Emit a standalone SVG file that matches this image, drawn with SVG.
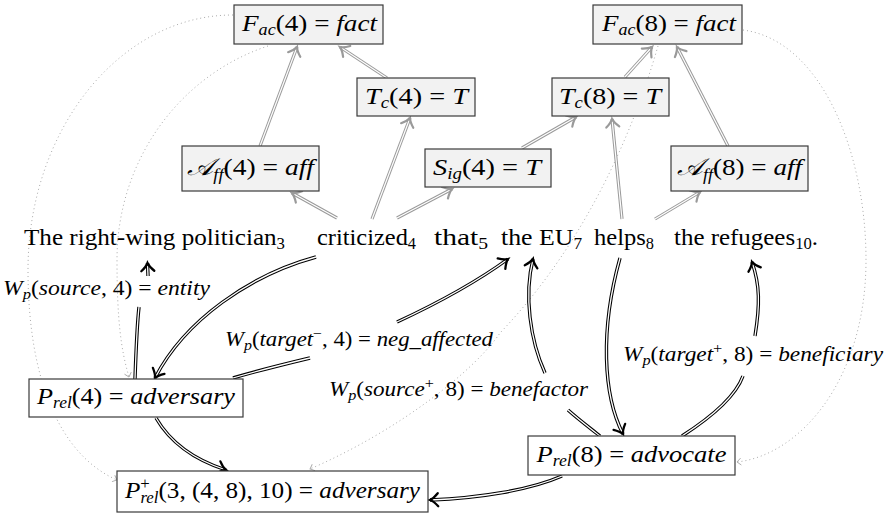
<svg xmlns="http://www.w3.org/2000/svg" width="895" height="513" viewBox="0 0 895 513">
<style>
text{font-family:'Liberation Serif','Times New Roman',serif}
.t{font-size:24px;fill:#000}
.i{font-style:italic}
.s{font-size:16px}
.lb{font-size:20px}
.ls{font-size:14px}
.b1{fill:#f2f2f2;stroke:#3a3a3a;stroke-width:1.2}
.b2{fill:#fff;stroke:#3a3a3a;stroke-width:1.2}
.go{fill:none;stroke:#9a9a9a;stroke-width:3.2}
.gi{fill:none;stroke:#fff;stroke-width:1.2;marker-end:url(#ag)}
.bo{fill:none;stroke:#000;stroke-width:3.4}
.bi{fill:none;stroke:#fff;stroke-width:1.3}
.ba{marker-end:url(#ab)}
.dot{fill:none;stroke:#aaa;stroke-width:1;stroke-dasharray:1 3;marker-end:url(#ad)}
</style>
<defs>
<marker id="ab" markerUnits="userSpaceOnUse" orient="auto" refX="0" refY="0" markerWidth="20" markerHeight="20" overflow="visible"><path d="M-8,-6.5 C-5,-3 -2,-0.8 0,0 C-2,0.8 -5,3 -8,6.5" fill="none" stroke="#000" stroke-width="2.3" stroke-linecap="round"/></marker>
<marker id="ag" markerUnits="userSpaceOnUse" orient="auto" refX="0" refY="0" markerWidth="20" markerHeight="20" overflow="visible"><path d="M-8,-6.5 C-5,-3 -2,-0.8 0,0 C-2,0.8 -5,3 -8,6.5" fill="none" stroke="#9a9a9a" stroke-width="2.2" stroke-linecap="round"/></marker>
<marker id="ad" markerUnits="userSpaceOnUse" orient="auto" refX="0" refY="0" markerWidth="10" markerHeight="10" overflow="visible"><path d="M-4,-3.5 L0,0 L-4,3.5" fill="none" stroke="#aaa" stroke-width="0.9"/></marker>
</defs>

<g id="connectors">
<path class="dot" d="M233,15 C120,15 28,130 28,270 C28,380 60,455 117,480"/>
<path class="dot" d="M268,46 C180,75 117,160 117,260 C117,320 121,350 129,377"/>
<path class="dot" d="M743,30 C820,40 866,150 866,260 C866,380 800,455 737,462"/>
<path class="dot" d="M658,46 C625,160 570,260 500,333 C475,370 400,430 310,469"/>
<path class="go" d="M260,146 L297,47"/><path class="gi" d="M260,146 L297,47"/>
<path class="go" d="M387,78 L340,47"/><path class="gi" d="M387,78 L340,47"/>
<path class="go" d="M372,219 L410,118"/><path class="gi" d="M372,219 L410,118"/>
<path class="go" d="M337,218 L292,193"/><path class="gi" d="M337,218 L292,193"/>
<path class="go" d="M397,218 L452,189"/><path class="gi" d="M397,218 L452,189"/>
<path class="go" d="M522,148 L576,117"/><path class="gi" d="M522,148 L576,117"/>
<path class="go" d="M625,77 L652,47"/><path class="gi" d="M625,77 L652,47"/>
<path class="go" d="M728,146 L677,47"/><path class="gi" d="M728,146 L677,47"/>
<path class="go" d="M622,219 L612,119"/><path class="gi" d="M622,219 L612,119"/>
<path class="go" d="M655,219 L700,192"/><path class="gi" d="M655,219 L700,192"/>
<path class="bo" d="M135,379 C136,350 137,325 139,307"/><path class="bi" d="M135,379 C136,350 137,325 139,307"/>
<path class="bo" d="M148,276 L147.5,263"/><path class="bi ba" d="M148,276 L147.5,263"/>
<path class="bo" d="M316,257 C250,275 185,320 155,378"/><path class="bi ba" d="M316,257 C250,275 185,320 155,378"/>
<path class="bo" d="M233,378 C260,370 285,364 310,358"/><path class="bi" d="M233,378 C260,370 285,364 310,358"/>
<path class="bo" d="M397,322 C440,302 475,283 508,259"/><path class="bi ba" d="M397,322 C440,302 475,283 508,259"/>
<path class="bo" d="M620,258 C600,330 603,395 623,434"/><path class="bi ba" d="M620,258 C600,330 603,395 623,434"/>
<path class="bo" d="M600,436 C590,428 578,419 568,410"/><path class="bi" d="M600,436 C590,428 578,419 568,410"/>
<path class="bo" d="M545,373 C530,340 524,295 533,259"/><path class="bi ba" d="M545,373 C530,340 524,295 533,259"/>
<path class="bo" d="M682,436 C710,418 735,398 743,376"/><path class="bi" d="M682,436 C710,418 735,398 743,376"/>
<path class="bo" d="M755,336 C760,305 760,285 752,262"/><path class="bi ba" d="M755,336 C760,305 760,285 752,262"/>
<path class="bo" d="M156,418 C170,442 195,460 226,470"/><path class="bi ba" d="M156,418 C170,442 195,460 226,470"/>
<path class="bo" d="M562,476 C530,490 480,498 430,500"/><path class="bi ba" d="M562,476 C530,490 480,498 430,500"/>
</g>

<g id="labels">
<text class="t lb" x="3" y="295" textLength="207" lengthAdjust="spacingAndGlyphs"><tspan class="i">W</tspan><tspan class="ls i" dy="4">p</tspan><tspan dy="-4">(</tspan><tspan class="i">source</tspan><tspan>, 4) = </tspan><tspan class="i">entity</tspan></text>
<text class="t lb" x="225" y="346" textLength="268" lengthAdjust="spacingAndGlyphs"><tspan class="i">W</tspan><tspan class="ls i" dy="4">p</tspan><tspan dy="-4">(</tspan><tspan class="i">target</tspan><tspan class="ls" dy="-8">−</tspan><tspan dy="8">, 4) = </tspan><tspan class="i">neg_affected</tspan></text>
<text class="t lb" x="329" y="396" textLength="259" lengthAdjust="spacingAndGlyphs"><tspan class="i">W</tspan><tspan class="ls i" dy="4">p</tspan><tspan dy="-4">(</tspan><tspan class="i">source</tspan><tspan class="ls" dy="-8">+</tspan><tspan dy="8">, 8) = </tspan><tspan class="i">benefactor</tspan></text>
<text class="t lb" x="623" y="361" textLength="260" lengthAdjust="spacingAndGlyphs"><tspan class="i">W</tspan><tspan class="ls i" dy="4">p</tspan><tspan dy="-4">(</tspan><tspan class="i">target</tspan><tspan class="ls" dy="-8">+</tspan><tspan dy="8">, 8) = </tspan><tspan class="i">beneficiary</tspan></text>
</g>

<g id="sentence">
<text class="t" x="24" y="245" textLength="261" lengthAdjust="spacingAndGlyphs">The right-wing politician<tspan class="s" dy="4">3</tspan></text>
<text class="t" x="317" y="245" textLength="99" lengthAdjust="spacingAndGlyphs">criticized<tspan class="s" dy="4">4</tspan></text>
<text class="t" x="434" y="245" textLength="54" lengthAdjust="spacingAndGlyphs">that<tspan class="s" dy="4">5</tspan></text>
<text class="t" x="501" y="245" textLength="81" lengthAdjust="spacingAndGlyphs">the EU<tspan class="s" dy="4">7</tspan></text>
<text class="t" x="594" y="245" textLength="60" lengthAdjust="spacingAndGlyphs">helps<tspan class="s" dy="4">8</tspan></text>
<text class="t" x="674" y="245" textLength="144" lengthAdjust="spacingAndGlyphs">the refugees<tspan class="s" dy="4">10</tspan><tspan dy="-4">.</tspan></text>
</g>

<g id="fac4"><rect class="b1" x="234" y="5" width="149" height="39"/>
<text class="t" x="309.5" y="31" text-anchor="middle" textLength="135" lengthAdjust="spacingAndGlyphs"><tspan class="i">F</tspan><tspan class="s i" dy="4">ac</tspan><tspan dy="-4">(4) = </tspan><tspan class="i">fact</tspan></text></g>
<g id="tc4"><rect class="b1" x="357" y="78" width="118" height="38"/>
<text class="t" x="416.5" y="104" text-anchor="middle" textLength="103" lengthAdjust="spacingAndGlyphs"><tspan class="i">T</tspan><tspan class="s i" dy="4">c</tspan><tspan dy="-4">(4) = </tspan><tspan class="i">T</tspan></text></g>
<g id="aff4"><rect class="b1" x="182" y="146" width="137" height="45"/>
<text class="t" x="250.5" y="175" text-anchor="middle" textLength="127" lengthAdjust="spacingAndGlyphs"><tspan class="i">𝒜</tspan><tspan class="s i" dy="5">ff</tspan><tspan dy="-5">(4) = </tspan><tspan class="i">aff</tspan></text></g>
<g id="sig4"><rect class="b1" x="425" y="149" width="126" height="38"/>
<text class="t" x="487" y="175" text-anchor="middle" textLength="108" lengthAdjust="spacingAndGlyphs"><tspan class="i">S</tspan><tspan class="s i" dy="4">ig</tspan><tspan dy="-4">(4) = </tspan><tspan class="i">T</tspan></text></g>
<g id="fac8"><rect class="b1" x="593" y="5" width="149" height="39"/>
<text class="t" x="669" y="31" text-anchor="middle" textLength="134" lengthAdjust="spacingAndGlyphs"><tspan class="i">F</tspan><tspan class="s i" dy="4">ac</tspan><tspan dy="-4">(8) = </tspan><tspan class="i">fact</tspan></text></g>
<g id="tc8"><rect class="b1" x="552" y="78" width="117" height="38"/>
<text class="t" x="610" y="104" text-anchor="middle" textLength="102" lengthAdjust="spacingAndGlyphs"><tspan class="i">T</tspan><tspan class="s i" dy="4">c</tspan><tspan dy="-4">(8) = </tspan><tspan class="i">T</tspan></text></g>
<g id="aff8"><rect class="b1" x="671" y="146" width="137" height="45"/>
<text class="t" x="739.5" y="175" text-anchor="middle" textLength="125" lengthAdjust="spacingAndGlyphs"><tspan class="i">𝒜</tspan><tspan class="s i" dy="5">ff</tspan><tspan dy="-5">(8) = </tspan><tspan class="i">aff</tspan></text></g>
<g id="prel4"><rect class="b2" x="29" y="379" width="214" height="38"/>
<text class="t" x="136" y="404" text-anchor="middle" textLength="198" lengthAdjust="spacingAndGlyphs"><tspan class="i">P</tspan><tspan class="s i" dy="4">rel</tspan><tspan dy="-4">(4) = </tspan><tspan class="i">adversary</tspan></text></g>
<g id="prelplus"><rect class="b2" x="117" y="471" width="311" height="41"/>
<text class="t" x="272.5" y="498" text-anchor="middle" textLength="295" lengthAdjust="spacingAndGlyphs"><tspan class="i">P</tspan><tspan class="s" dy="-9">+</tspan><tspan class="s i" dx="-9" dy="14">rel</tspan><tspan dy="-5">(3, (4, 8), 10) = </tspan><tspan class="i">adversary</tspan></text></g>
<g id="prel8"><rect class="b2" x="528" y="436" width="207" height="39"/>
<text class="t" x="631.5" y="462" text-anchor="middle" textLength="190" lengthAdjust="spacingAndGlyphs"><tspan class="i">P</tspan><tspan class="s i" dy="4">rel</tspan><tspan dy="-4">(8) = </tspan><tspan class="i">advocate</tspan></text></g>
</svg>
